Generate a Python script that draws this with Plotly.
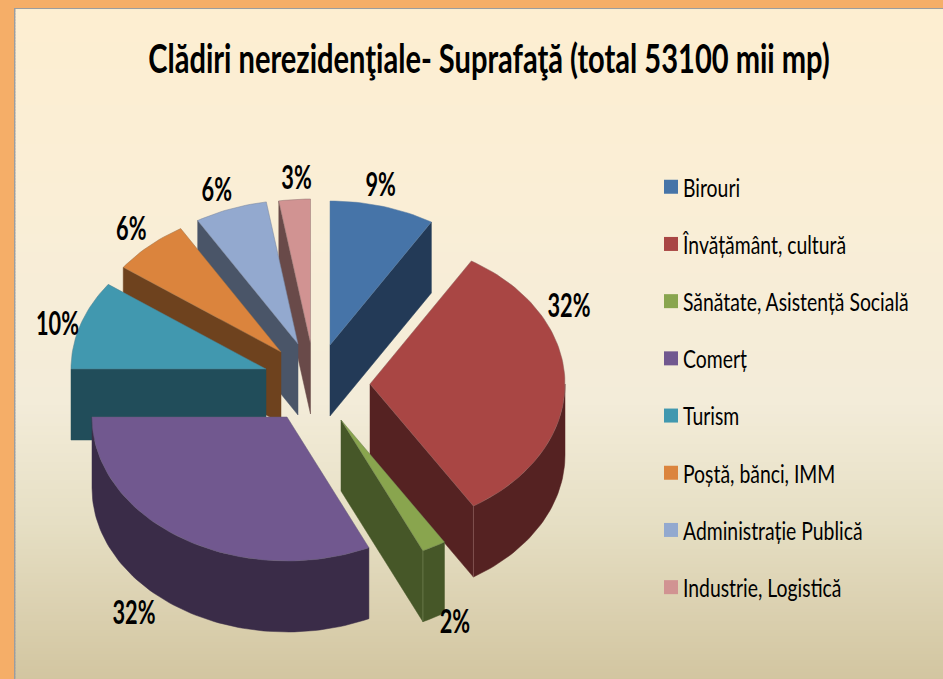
import math
import plotly.graph_objects as go

# ---- data ----
TITLE = "Clădiri nerezidenţiale- Suprafaţă (total 53100 mii mp)"
categories = ["Birouri", "Învățământ, cultură", "Sănătate, Asistență Socială", "Comerț",
              "Turism", "Poștă, bănci, IMM", "Administrație Publică", "Industrie, Logistică"]
values = [8.7, 32.4, 2.0, 31.9, 10.0, 6.4, 6.0, 2.6]

# ---- styles / layout ----
top_colors = ["#4674A8", "#A94644", "#89A54E", "#71588F", "#4198AF", "#DB843D", "#93A9CF", "#D19392"]
wall_colors = ["#233A57", "#552222", "#465728", "#3A2C48", "#214D5A", "#6E421E", "#4A5568", "#694A49"]
seam_colors = ["#5A7CA0", "#8A5A58", "#6E8050", "#655A78", "#4F7F8C", "#9A6F45", "#77839A", "#917473"]
apex = [(330, 345), (370, 384), (341, 420), (287, 417), (266, 369), (281, 352), (298, 344), (310.5, 343)]
label_offset = [(-2, -18), (4, -74), (21, 78), (-48, 78), (-23, 3), (-18, -14), (-14, -16), (2, -18)]
RX, RY, DEPTH = 195, 144, 71
draw_order = [7, 6, 5, 4, 0, 1, 2, 3]
FONT = "Lato"

total = sum(values)
bounds = [0.0]
for v in values:
    bounds.append(bounds[-1] + v / total * 360)


def rim(i, t):
    ax, ay = apex[i]
    r = math.radians(t)
    return ax + RX * math.sin(r), ay - RY * math.cos(r)


def arc(i, t0, t1):
    n = max(2, int(abs(t1 - t0) / 1.5) + 1)
    return [rim(i, t0 + (t1 - t0) * k / (n - 1)) for k in range(n)]


def poly(pts, color, line=None, width=0.0):
    xs = [p[0] for p in pts] + [pts[0][0]]
    ys = [p[1] for p in pts] + [pts[0][1]]
    return go.Scatter(x=xs, y=ys, mode="lines", fill="toself", fillcolor=color,
                      line=dict(color=line or color, width=width),
                      hoverinfo="skip", showlegend=False)


fig = go.Figure()

for i in draw_order:
    t0, t1 = bounds[i], bounds[i + 1]
    a = apex[i]
    drop = lambda p: (p[0], p[1] + DEPTH)
    if 0 < t1 < 180:
        e = rim(i, t1)
        fig.add_trace(poly([a, e, drop(e), drop(a)], wall_colors[i], wall_colors[i], 0.5))
    if 180 < t0 < 360:
        s = rim(i, t0)
        fig.add_trace(poly([a, s, drop(s), drop(a)], wall_colors[i], wall_colors[i], 0.5))
    lo, hi = max(t0, 90), min(t1, 270)
    if lo < hi:
        pts = arc(i, lo, hi)
        fig.add_trace(poly(pts + [drop(p) for p in reversed(pts)], wall_colors[i], wall_colors[i], 0.5))
    if 90 < t1 < 180:
        e = rim(i, t1)
        fig.add_trace(go.Scatter(x=[e[0], e[0]], y=[e[1], e[1] + DEPTH], mode="lines",
                                 line=dict(color=seam_colors[i], width=0.8),
                                 hoverinfo="skip", showlegend=False))
    fig.add_trace(poly([a] + arc(i, t0, t1), top_colors[i], seam_colors[i], 0.5))

for i, v in enumerate(values):
    mx, my = rim(i, (bounds[i] + bounds[i + 1]) / 2)
    fig.add_trace(go.Scatter(x=[mx + label_offset[i][0]], y=[my + label_offset[i][1]], mode="text",
                             text=[f"{v:.0f}%"], textposition="middle center",
                             textfont=dict(family=FONT, size=32, color="black", weight="bold"),
                             hoverinfo="skip", showlegend=False))

for i, name in enumerate(categories):
    fig.add_trace(go.Scatter(x=[None], y=[None], mode="markers", name=name, legendgroup=name,
                             marker=dict(symbol="square", size=14, color=top_colors[i])))

shapes = [dict(type="rect", xref="x", yref="y", x0=14, x1=943, y0=8, y1=679,
               fillcolor="#9A9DA0", line_width=0, layer="below")]
stops = [(9, (253, 238, 209)), (200, (250, 238, 214)), (400, (243, 236, 217)),
         (520, (230, 223, 196)), (679, (210, 197, 160))]
y = 9
while y < 679:
    for (y0, c0), (y1, c1) in zip(stops, stops[1:]):
        if y0 <= y <= y1:
            f = (y - y0) / (y1 - y0)
            c = [round(p + (q - p) * f) for p, q in zip(c0, c1)]
            break
    shapes.append(dict(type="rect", xref="x", yref="y", x0=15.5, x1=943, y0=y, y1=y + 3.5,
                       fillcolor=f"rgb({c[0]},{c[1]},{c[2]})", line_width=0, layer="below"))
    y += 3

fig.update_layout(
    width=943, height=679, margin=dict(l=0, r=0, t=0, b=0, autoexpand=False), autosize=False,
    paper_bgcolor="#F5AE68", plot_bgcolor="rgba(0,0,0,0)", shapes=shapes,
    xaxis=dict(range=[0, 943], visible=False, fixedrange=True),
    yaxis=dict(range=[679, 0], visible=False, fixedrange=True),
    title=dict(text=f"<b>{TITLE}</b>", x=489 / 943, xanchor="center", y=1 - 59 / 679, yanchor="middle",
               font=dict(family=FONT, size=41, color="black")),
    legend=dict(x=651 / 943, xanchor="left", y=1 - 164 / 679, yanchor="top",
                bgcolor="rgba(0,0,0,0)", borderwidth=0, tracegroupgap=21.7, itemwidth=30,
                font=dict(family=FONT, size=25, color="black")),
)

# The reference text is a tall, horizontally squeezed face: squeeze the real text to the same widths.
POST = """
document.documentElement.style.margin = '0';
document.body.style.margin = '0';
document.body.style.overflow = 'hidden';
function squeeze(el, sx, dx) {
  var x = parseFloat(el.getAttribute('x')) || 0;
  var old = el.getAttribute('transform') || '';
  el.setAttribute('transform', old + ' translate(' + (x + dx) + ',0) scale(' + sx + ',1) translate(' + (-x) + ',0)');
}
var t = document.querySelector('text.gtitle');
if (t) squeeze(t, 682 / t.getComputedTextLength(), 0);
document.querySelectorAll('.textpoint text').forEach(function (e) { squeeze(e, 0.68, 0); });
document.querySelectorAll('text.legendtext').forEach(function (e) { squeeze(e, 0.775, -8); });
"""
fig.write_html("out.html", post_script=POST, config={"displayModeBar": False})
